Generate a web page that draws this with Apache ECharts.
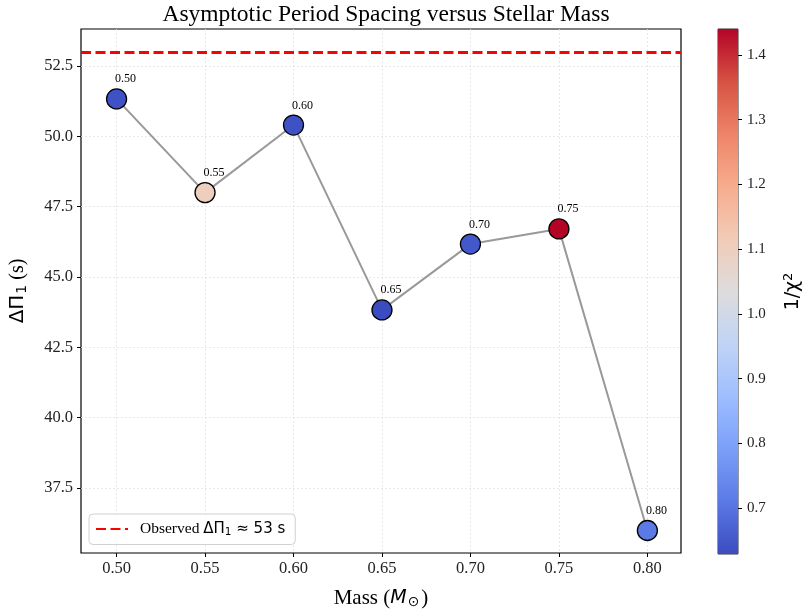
<!DOCTYPE html>
<html><head><meta charset="utf-8">
<script src="https://cdn.jsdelivr.net/npm/echarts@6/dist/echarts.min.js"></script>
<style>html,body{margin:0;padding:0;background:#fff}#c{width:804px;height:616px}</style>
</head><body><div id="c"></div>
<script>
// ---- data ----
var masses = [0.50, 0.55, 0.60, 0.65, 0.70, 0.75, 0.80];
var deltaPi = [51.33, 48.00, 50.40, 43.83, 46.17, 46.71, 35.99];
var invChi2 = [0.64, 1.10, 0.64, 0.629, 0.65, 1.44, 0.71];
var observedDeltaPi = 53;
var yTicks = [37.5, 40.0, 42.5, 45.0, 47.5, 50.0, 52.5];
var xTicks = [0.50, 0.55, 0.60, 0.65, 0.70, 0.75, 0.80];
var cbTicks = [0.7, 0.8, 0.9, 1.0, 1.1, 1.2, 1.3, 1.4];
var cbMin = 0.629, cbMax = 1.44;
var coolwarm = ['#3b4cc0','#5b7ae5','#7b9ff9','#9ebeff','#c0d4f5','#dddcdc','#f2cbb7','#f7ac8e','#ee8468','#d65244','#b40426'];

var SERIF = '"Liberation Serif","DejaVu Serif",serif';
var SANS = '"DejaVu Sans",sans-serif';

var linePts = masses.map(function(m,i){return [m, deltaPi[i]];});
var scatPts = masses.map(function(m,i){return [m, deltaPi[i], invChi2[i]];});

var stops = coolwarm.map(function(c,i){return {offset: 1 - i/(coolwarm.length-1), color: c};});

var chart = echarts.init(document.getElementById('c'), null, {renderer:'canvas'});
var gridLine = {show:true, lineStyle:{color:'#e4e4e4', type:[2,2], width:0.8}};
chart.setOption({
  animation:false,
  backgroundColor:'#fff',
  title:{text:'Asymptotic Period Spacing versus Stellar Mass', left:381, top:-2, textAlign:'center',
    textStyle:{fontFamily:SERIF, fontSize:23.5, fontWeight:'normal', color:'#000'}},
  grid:[
    {left:81, top:29, width:600, height:524, show:true, borderColor:'#000', borderWidth:1.2, backgroundColor:'transparent'},
    {left:718, top:29, width:27, height:525, show:true, borderColor:'#333', borderWidth:1, backgroundColor:'transparent'}
  ],
  xAxis:[
    {type:'value', gridIndex:0, min:0.4799, max:0.8190,
     axisLine:{show:false}, 
     axisTick:{show:true, inside:false, length:4, customValues:xTicks, lineStyle:{color:'#000'}},
     axisLabel:{customValues:xTicks, formatter:function(v){return v.toFixed(2);}, fontFamily:SERIF, fontSize:16.5, color:'#222', margin:7},
     splitLine:gridLine,
     name:'{a|Mass (}{m|M}{s|⊙}{a|)}', nameLocation:'middle', nameGap:34,
     nameTextStyle:{rich:{a:{fontFamily:SERIF,fontSize:21,color:'#000'}, m:{fontFamily:SANS,fontStyle:'italic',fontSize:19,color:'#000'}, s:{fontFamily:SANS,fontSize:14,color:'#000',padding:[8,2,0,1]}}}},
    {type:'category', gridIndex:1, data:['cb'], show:false}
  ],
  yAxis:[
    {type:'value', gridIndex:0, min:35.19, max:53.815,
     axisLine:{show:false},
     axisTick:{show:true, inside:false, length:4, customValues:yTicks, lineStyle:{color:'#000'}},
     axisLabel:{customValues:yTicks, formatter:function(v){return v.toFixed(1);}, fontFamily:SERIF, fontSize:16.5, color:'#222', margin:8},
     splitLine:gridLine,
     name:'{b|ΔΠ}{s|1}{a| (s)}', nameLocation:'middle', nameGap:52, nameRotate:90,
     nameTextStyle:{rich:{a:{fontFamily:SERIF,fontSize:20,color:'#000'}, b:{fontFamily:SANS,fontSize:20,color:'#000'}, s:{fontFamily:SANS,fontSize:14,color:'#000',padding:[8,0,0,1]}}}},
    {type:'value', gridIndex:1, min:cbMin, max:cbMax, position:'right',
     axisLine:{show:false},
     axisTick:{show:true, inside:false, length:4, customValues:cbTicks, lineStyle:{color:'#000'}},
     axisLabel:{customValues:cbTicks, formatter:function(v){return v.toFixed(1);}, fontFamily:SERIF, fontSize:15, color:'#222', margin:9},
     splitLine:{show:false},
     name:'{a|1/χ}{p|2}', nameLocation:'middle', nameGap:44, nameRotate:90,
     nameTextStyle:{rich:{a:{fontFamily:SANS,fontSize:19,color:'#000'}, p:{fontFamily:SANS,fontSize:13,color:'#000',padding:[0,0,10,0]}}}}
  ],
  visualMap:{type:'continuous', show:false, min:cbMin, max:cbMax, dimension:2, seriesIndex:1, inRange:{color:coolwarm}},
  legend:{left:89, top:514, padding:[7,10,7,6], itemGap:8, itemWidth:32, itemHeight:12,
    backgroundColor:'rgba(255,255,255,0.8)', borderColor:'#d0d0d0', borderWidth:1, borderRadius:4,
    data:['obs'],
    itemStyle:{opacity:0, borderWidth:0},
    formatter:function(){return '{a|Observed }{b|ΔΠ}{s|1}{b| ≈ 53 s}';},
    textStyle:{padding:[0,0,0,7], rich:{a:{fontFamily:SERIF,fontSize:15.5,color:'#000'}, b:{fontFamily:SANS,fontSize:15,color:'#000'}, s:{fontFamily:SANS,fontSize:10.5,color:'#000',padding:[6,0,0,0]}}}},
  series:[
    {type:'line', name:'path', xAxisIndex:0, yAxisIndex:0, data:linePts, symbol:'none', silent:true,
     lineStyle:{color:'#999', width:2}, z:2},
    {type:'scatter', name:'pts', xAxisIndex:0, yAxisIndex:0, data:scatPts, symbol:'circle', symbolSize:20,
     itemStyle:{borderColor:'#000', borderWidth:1.3, opacity:1}, z:3,
     label:{show:true, position:'top', distance:4, offset:[9,1], formatter:function(p){return p.value[0].toFixed(2);},
       fontFamily:SERIF, fontSize:12, color:'#000'}},
    {type:'line', name:'obs', xAxisIndex:0, yAxisIndex:0, data:[], symbol:'none',
     lineStyle:{color:'#ff0000', width:2.8, type:[10,4.5]}, itemStyle:{color:'#ff0000'},
     markLine:{silent:true, symbol:'none', label:{show:false}, lineStyle:{color:'#ff0000', width:2.8, type:[10,4.5]}, data:[{yAxis:observedDeltaPi}]}, z:4},
    {type:'bar', name:'cbBase', xAxisIndex:1, yAxisIndex:1, stack:'cb', data:[cbMin], barWidth:'100%', itemStyle:{color:'transparent'}, silent:true},
    {type:'bar', name:'cbBar', xAxisIndex:1, yAxisIndex:1, stack:'cb', data:[cbMax-cbMin], barWidth:'100%', silent:true,
     itemStyle:{color:new echarts.graphic.LinearGradient(0,0,0,1,stops)}}
  ]
});
</script></body></html>
